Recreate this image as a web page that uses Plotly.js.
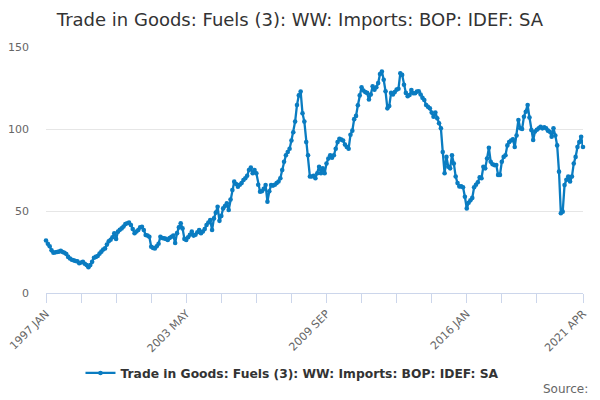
<!DOCTYPE html>
<html>
<head>
<meta charset="utf-8">
<script src="https://cdn.plot.ly/plotly-3.0.1.min.js"></script>
<style>
  html, body { margin: 0; padding: 0; background: #fff; }
  #chart { width: 600px; height: 400px; }
</style>
</head>
<body>
<div id="chart"></div>
<script>
var seriesName = 'Trade in Goods: Fuels (3): WW: Imports: BOP: IDEF: SA';
var startYear = 1997;
var monthNames = ['JAN', 'FEB', 'MAR', 'APR', 'MAY', 'JUN', 'JUL', 'AUG', 'SEP', 'OCT', 'NOV', 'DEC'];

// monthly values, one row per year
var v1997 = [32, 30, 28.5, 26, 24.5, 24.8, 25, 25.2, 25.8, 25, 24.5, 23.8];
var v1998 = [22, 21, 20.3, 19.9, 19.5, 19.3, 18.1, 18.6, 19.1, 17.8, 17, 15.7];
var v1999 = [17, 19, 21.5, 22, 22.6, 24, 25.2, 26.5, 27.2, 29.5, 31.5, 32.5];
var v2000 = [34, 36.4, 33, 37.4, 38.5, 39.4, 40.5, 42, 42.5, 42.9, 41.5, 39];
var v2001 = [36.4, 37.5, 38.4, 40, 40.4, 38.4, 35.4, 35, 34.3, 28.2, 27.5, 27.2];
var v2002 = [28.5, 30, 34.3, 33.5, 33.3, 33, 32.3, 33.5, 34.3, 35, 30.5, 36.5];
var v2003 = [40, 42.5, 39.4, 33, 32.3, 34, 35.5, 37.4, 35, 35.5, 37, 38.4];
var v2004 = [36.4, 37.5, 39, 41.5, 43, 44.5, 38.4, 45.5, 49, 52.6, 44, 47];
var v2005 = [51.6, 53, 54.7, 50.6, 57, 62.8, 67.9, 66.5, 64.8, 66, 67, 68.9];
var v2006 = [70, 71.5, 75, 76.5, 73, 75, 73, 66, 61.8, 62, 63.5, 65.8];
var v2007 = [55.7, 62, 65.8, 65.5, 66, 67, 68, 70, 75, 80, 84, 86];
var v2008 = [88, 93, 98, 104.5, 114.6, 120.5, 122.8, 109.6, 104.5, 92, 84, 71];
var v2009 = [71, 71.5, 70, 73, 77, 73, 76, 73, 79, 82, 84, 82.5];
var v2010 = [84, 88, 92, 94, 93.5, 93, 90.5, 89, 88, 96.5, 99, 106];
var v2011 = [108, 114.5, 120.5, 125.5, 123.5, 122.5, 122, 118, 121, 126, 124, 125.5];
var v2012 = [128, 133.5, 135, 130, 123, 112.6, 114, 122, 121, 122.5, 124, 124.5];
var v2013 = [134, 133, 127, 122, 120, 120.7, 123.8, 121.8, 121.8, 122.8, 123, 121];
var v2014 = [119, 117.7, 114.6, 113.5, 112.6, 110, 107.5, 110, 106.5, 103.5, 100.4, 86];
var v2015 = [73, 83, 77, 76, 84, 79, 71, 67, 65, 65, 64.5, 58.7];
var v2016 = [51.6, 55, 56.5, 58, 64.5, 66, 67.5, 70.5, 70, 77, 76, 82];
var v2017 = [88.5, 80, 78.5, 78, 78, 72, 72, 80, 83, 84, 90, 92];
var v2018 = [93, 93.7, 89, 96, 105.5, 100.5, 100, 107.5, 110.5, 114.6, 107, 99.4];
var v2019 = [93.3, 98.5, 99.5, 100.4, 101.4, 100.4, 101, 100.4, 99, 98.3, 95.3, 100.4];
var v2020 = [96, 90, 74, 48.6, 49.6, 65.8, 69, 71, 68, 71, 79, 83];
var v2021 = [89, 92, 95.3, 89];

var yearRows = [v1997, v1998, v1999, v2000, v2001, v2002, v2003, v2004, v2005, v2006,
  v2007, v2008, v2009, v2010, v2011, v2012, v2013, v2014, v2015, v2016,
  v2017, v2018, v2019, v2020, v2021];

var xValue = [];
var yValue = [];
yearRows.forEach(function (row, yi) {
  row.forEach(function (val, mi) {
    xValue.push((startYear + yi) + ' ' + monthNames[mi]);
    yValue.push(val);
  });
});

// ticks every 19 months, label every 4th tick, plus the last month
var tickStep = 19;
var tickVals = [];
var tickText = [];
for (var i = 0; i < xValue.length - 10; i += tickStep) {
  tickVals.push(xValue[i]);
  tickText.push((i / tickStep) % 4 === 0 ? xValue[i] : '');
}
tickVals.push(xValue[xValue.length - 1]);
tickText.push(xValue[xValue.length - 1]);

var data = [
  {
    x: xValue,
    y: yValue,
    mode: 'lines+markers',
    type: 'scatter',
    name: seriesName,
    cliponaxis: false,
    line: { color: '#0a7cc1', width: 2.3 },
    marker: { color: '#0a7cc1', size: 4.6 }
  }
];

var layout = {
  width: 600,
  height: 400,
  margin: { l: 46, r: 17, t: 47, b: 107 },
  font: { family: 'DejaVu Sans, sans-serif', color: '#666666', size: 11 },
  title: {
    text: 'Trade in Goods: Fuels (3): WW: Imports: BOP: IDEF: SA',
    font: { size: 18, color: '#333333' },
    x: 0.5,
    xanchor: 'center',
    y: 0.951,
    yanchor: 'middle'
  },
  xaxis: {
    type: 'category',
    range: [0, xValue.length - 1],
    tickmode: 'array',
    tickvals: tickVals,
    ticktext: tickText,
    tickangle: -45,
    ticks: 'outside',
    ticklen: 9,
    tickcolor: '#ccd6eb',
    showline: true,
    linecolor: '#ccd6eb',
    linewidth: 1,
    showgrid: false,
    zeroline: false,
    tickfont: { size: 11, color: '#666666' }
  },
  yaxis: {
    range: [0, 150],
    tick0: 0,
    dtick: 50,
    showgrid: true,
    gridcolor: '#e6e6e6',
    zeroline: false,
    showline: false,
    ticks: '',
    ticklabelstandoff: 16,
    tickfont: { size: 11, color: '#666666' }
  },
  showlegend: true,
  legend: {
    orientation: 'h',
    x: 0.459,
    xanchor: 'center',
    y: -0.325,
    yanchor: 'middle',
    itemwidth: 30,
    font: { size: 12.3, color: '#333333', weight: 'bold' }
  },
  annotations: [
    {
      text: 'Source:',
      xref: 'paper',
      yref: 'paper',
      x: 1.013,
      xanchor: 'right',
      y: -0.39,
      yanchor: 'middle',
      showarrow: false,
      font: { size: 12, color: '#666666' }
    }
  ],
  plot_bgcolor: '#ffffff',
  paper_bgcolor: '#ffffff'
};

Plotly.newPlot('chart', data, layout, { displayModeBar: false, staticPlot: true });
</script>
</body>
</html>
